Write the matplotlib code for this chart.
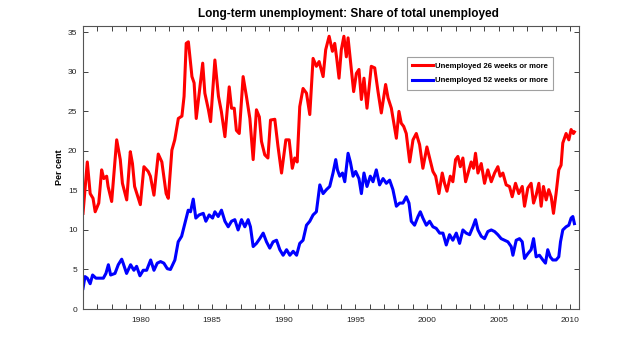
import matplotlib
matplotlib.use("Agg")
import matplotlib.pyplot as plt

plt.rcParams['font.family'] = ['Liberation Sans', 'DejaVu Sans']

# Unemployed 26 weeks or more (share of total unemployed, %)
years_26 = [1976.0, 1976.3, 1976.5, 1976.7, 1976.85, 1977.1, 1977.3, 1977.45, 1977.65, 1977.75,
            1978.0, 1978.35, 1978.6, 1978.75, 1979.05, 1979.3, 1979.45, 1979.6, 1980.0, 1980.25,
            1980.55, 1980.7, 1980.95, 1981.25, 1981.5, 1981.8, 1981.95, 1982.2, 1982.4, 1982.65,
            1982.9, 1983.05, 1983.2, 1983.35, 1983.6, 1983.75, 1983.9, 1984.35, 1984.5, 1984.75,
            1984.9, 1985.2, 1985.45, 1985.65, 1985.9, 1986.2, 1986.36, 1986.55, 1986.7, 1986.9,
            1987.17, 1987.4, 1987.64, 1987.87, 1988.1, 1988.3, 1988.45, 1988.68, 1988.9, 1989.08,
            1989.38, 1989.6, 1989.85, 1990.15, 1990.38, 1990.6, 1990.77, 1990.94, 1991.12, 1991.35,
            1991.59, 1991.82, 1992.05, 1992.28, 1992.47, 1992.75, 1992.93, 1993.17, 1993.4, 1993.56,
            1993.7, 1993.86, 1994.02, 1994.2, 1994.37, 1994.49, 1994.65, 1994.88, 1995.07, 1995.25,
            1995.42, 1995.6, 1995.81, 1996.11, 1996.35, 1996.58, 1996.81, 1997.11, 1997.28, 1997.51,
            1997.74, 1997.86, 1998.04, 1998.2, 1998.37, 1998.55, 1998.79, 1999.02, 1999.25, 1999.48,
            1999.71, 1999.99, 2000.18, 2000.41, 2000.6, 2000.83, 2001.06, 2001.22, 2001.39, 2001.62,
            2001.8, 2001.99, 2002.15, 2002.32, 2002.5, 2002.69, 2002.92, 2003.08, 2003.24, 2003.38,
            2003.55, 2003.78, 2004.01, 2004.24, 2004.48, 2004.71, 2004.94, 2005.1, 2005.29, 2005.52,
            2005.75, 2005.94, 2006.17, 2006.4, 2006.64, 2006.8, 2007.03, 2007.26, 2007.43, 2007.61,
            2007.8, 2007.96, 2008.12, 2008.31, 2008.49, 2008.66, 2008.82, 2009.0, 2009.19, 2009.35,
            2009.47, 2009.7, 2009.89, 2010.05, 2010.21, 2010.28]
share_26 = [12.1, 18.6, 14.6, 14.0, 12.3, 13.4, 17.6, 16.5, 16.8, 15.5,
            13.6, 21.4, 18.9, 15.9, 13.8, 19.9, 18.4, 15.5, 13.2, 18.0,
            17.4, 16.8, 14.4, 19.6, 18.6, 14.6, 14.0, 20.1, 21.4, 24.1,
            24.4, 26.9, 33.6, 33.8, 29.4, 28.6, 24.1, 31.1, 27.3, 25.2,
            23.7, 31.5, 26.9, 25.0, 21.8, 28.1, 25.4, 25.4, 22.6, 22.2,
            29.4, 26.9, 24.1, 18.9, 25.2, 24.3, 21.2, 19.5, 19.1, 23.9,
            24.0, 20.6, 17.2, 21.4, 21.4, 17.8, 19.1, 18.6, 25.6, 27.9,
            27.3, 24.6, 31.7, 30.7, 31.3, 29.4, 32.8, 34.5, 32.6, 33.6,
            31.7, 29.2, 32.8, 34.5, 31.9, 34.3, 31.5, 27.5, 29.8, 30.3,
            26.5, 29.2, 25.4, 30.7, 30.5, 27.5, 24.8, 28.4, 26.7, 25.4,
            22.9, 21.6, 25.0, 23.5, 23.1, 22.2, 18.6, 21.4, 22.2, 20.8,
            17.8, 20.5, 19.1, 17.4, 16.8, 14.6, 17.2, 15.9, 14.9, 16.8,
            16.1, 18.9, 19.3, 18.0, 19.1, 16.1, 17.6, 18.6, 17.8, 19.7,
            17.2, 18.4, 15.9, 17.6, 16.1, 17.2, 18.0, 16.8, 17.2, 15.7,
            15.5, 14.2, 15.9, 14.6, 15.5, 13.0, 15.3, 15.9, 13.4, 14.4,
            15.9, 13.0, 15.5, 13.8, 15.1, 14.2, 12.1, 14.6, 17.6, 18.2,
            21.0, 22.2, 21.4, 22.7, 22.2, 22.4]

# Unemployed 52 weeks or more (share of total unemployed, %)
years_52 = [1976.0, 1976.14, 1976.3, 1976.5, 1976.67, 1976.9, 1977.18, 1977.42, 1977.6, 1977.77,
            1977.93, 1978.23, 1978.46, 1978.7, 1978.8, 1979.04, 1979.32, 1979.55, 1979.74, 1979.97,
            1980.2, 1980.44, 1980.72, 1980.95, 1981.18, 1981.41, 1981.64, 1981.88, 1982.1, 1982.41,
            1982.64, 1982.88, 1983.1, 1983.34, 1983.5, 1983.69, 1983.87, 1984.1, 1984.39, 1984.57,
            1984.8, 1985.04, 1985.2, 1985.43, 1985.66, 1985.9, 1986.13, 1986.36, 1986.59, 1986.82,
            1987.06, 1987.29, 1987.52, 1987.68, 1987.87, 1988.1, 1988.33, 1988.57, 1988.8, 1989.03,
            1989.26, 1989.5, 1989.73, 1989.96, 1990.2, 1990.43, 1990.66, 1990.9, 1991.12, 1991.35,
            1991.59, 1991.82, 1992.05, 1992.28, 1992.52, 1992.75, 1992.98, 1993.21, 1993.44, 1993.63,
            1993.75, 1993.91, 1994.1, 1994.26, 1994.49, 1994.65, 1994.84, 1995.02, 1995.25, 1995.42,
            1995.6, 1995.81, 1996.04, 1996.23, 1996.46, 1996.69, 1996.93, 1997.16, 1997.39, 1997.62,
            1997.86, 1998.09, 1998.32, 1998.55, 1998.74, 1998.9, 1999.13, 1999.37, 1999.53, 1999.71,
            1999.95, 2000.18, 2000.41, 2000.64, 2000.88, 2001.11, 2001.34, 2001.57, 2001.8, 2002.04,
            2002.27, 2002.5, 2002.73, 2002.97, 2003.2, 2003.38, 2003.55, 2003.78, 2004.01, 2004.24,
            2004.48, 2004.71, 2004.94, 2005.17, 2005.41, 2005.64, 2005.87, 2005.99, 2006.22, 2006.45,
            2006.64, 2006.8, 2007.03, 2007.26, 2007.43, 2007.61, 2007.84, 2008.08, 2008.26, 2008.42,
            2008.59, 2008.77, 2009.0, 2009.19, 2009.31, 2009.47, 2009.7, 2009.89, 2010.05, 2010.17,
            2010.28]
share_52 = [2.6, 4.1, 3.9, 3.2, 4.3, 3.9, 3.9, 3.9, 4.5, 5.6,
            4.3, 4.5, 5.6, 6.3, 5.8, 4.5, 5.6, 4.9, 5.4, 4.2,
            4.9, 4.9, 6.2, 4.9, 5.8, 6.0, 5.8, 5.1, 5.0, 6.2,
            8.5, 9.2, 10.8, 12.5, 12.3, 13.9, 11.5, 11.9, 12.1, 11.1,
            11.9, 11.5, 12.3, 11.7, 12.5, 11.1, 10.4, 11.1, 11.3, 10.0,
            11.3, 10.4, 11.3, 10.4, 7.9, 8.3, 8.9, 9.6, 8.5, 7.7,
            8.5, 8.7, 7.5, 6.8, 7.5, 6.8, 7.3, 6.8, 8.3, 8.7,
            10.6, 11.1, 11.9, 12.3, 15.7, 14.6, 15.1, 15.5, 17.2, 18.9,
            17.6, 16.8, 17.2, 16.1, 19.7, 18.6, 16.8, 17.4, 16.5, 14.6,
            17.2, 15.5, 16.8, 16.1, 17.6, 15.7, 16.5, 15.9, 16.3, 15.1,
            13.0, 13.4, 13.4, 14.2, 13.4, 11.1, 10.6, 11.7, 12.3, 11.5,
            10.6, 11.1, 10.4, 10.2, 9.6, 9.6, 8.1, 9.4, 8.7, 9.6,
            8.3, 10.0, 9.6, 9.4, 10.4, 11.3, 10.0, 9.2, 8.9, 9.8,
            10.0, 9.8, 9.4, 8.9, 8.7, 8.5, 7.9, 6.8, 8.7, 8.9,
            8.5, 6.4, 7.0, 7.5, 8.9, 6.6, 6.8, 6.2, 5.8, 7.5,
            6.6, 6.2, 6.2, 6.6, 8.5, 10.0, 10.4, 10.6, 11.5, 11.7,
            10.8]

y_ticks = [0, 5, 10, 15, 20, 25, 30, 35]
x_labels = [1980, 1985, 1990, 1995, 2000, 2005, 2010]

fig = plt.figure(figsize=(6.4, 3.48), dpi=100)
ax = fig.add_axes([83 / 640, 1 - 309 / 348, (579 - 83) / 640, (309 - 26) / 348])

ax.plot(years_26, share_26, color='#ff0000', lw=2.2, label='Unemployed 26 weeks or more')
ax.plot(years_52, share_52, color='#0000ff', lw=2.2, label='Unemployed 52 weeks or more')

ax.set_xlim(1976.0, 2010.6)
ax.set_ylim(0, 35.8)
ax.set_yticks(y_ticks)
ax.set_xticks(range(1976, 2011))
ax.set_xticklabels([str(y) if y in x_labels else '' for y in range(1976, 2011)])
ax.tick_params(direction='in', top=True, right=True, length=3.5, width=0.6,
               labelsize=6, colors='#222222')
ax.tick_params(axis='x', pad=6)
ax.tick_params(axis='y', pad=4)
for s in ax.spines.values():
    s.set_color('#555555')
    s.set_linewidth(0.8)

ax.set_ylabel('Per cent', fontsize=6.5, fontweight='bold', labelpad=3)
fig.text(348 / 640, 1 - 14 / 348, 'Long-term unemployment: Share of total unemployed',
         fontsize=8.5, fontweight='bold', ha='center', va='center')

leg = ax.legend(loc='upper left', bbox_to_anchor=(407 / 640, 1 - 57 / 348),
                bbox_transform=fig.transFigure, borderaxespad=0,
                prop={'size': 5.6, 'weight': 'bold'}, fancybox=False,
                handlelength=2.6, handletextpad=0.3, borderpad=0.7, labelspacing=0.9)
leg.get_frame().set_edgecolor('#888888')
leg.get_frame().set_linewidth(0.8)

fig.savefig('out.png', dpi=100)
